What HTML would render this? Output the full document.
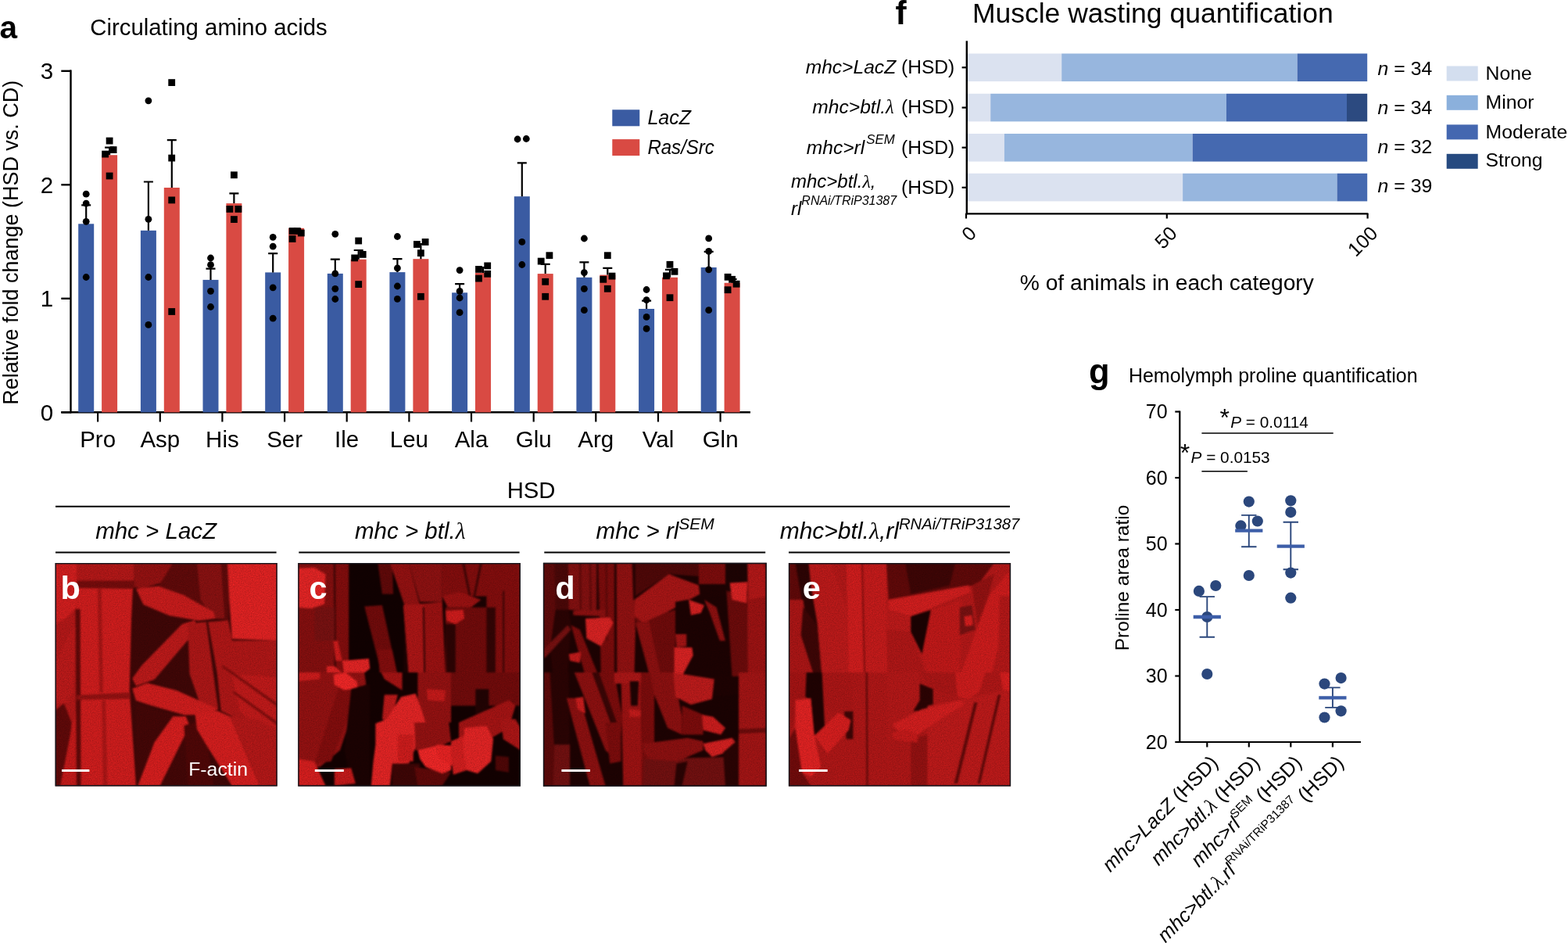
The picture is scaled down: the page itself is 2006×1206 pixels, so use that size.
<!DOCTYPE html>
<html><head><meta charset="utf-8"><title>Figure</title>
<style>
html,body{margin:0;padding:0;background:#fff;}
body{width:2006px;height:1206px;overflow:hidden;}
svg{display:block;}
svg text{font-family:'Liberation Sans', Arial, Helvetica, sans-serif;}
</style></head><body>
<svg width="2006" height="1206" viewBox="0 0 2006 1206">
<rect width="2006" height="1206" fill="#fff"/>
<g id="pa">
<text x="-0.6" y="49" font-size="40.5" font-weight="bold">a</text>
<text x="115.3" y="45" font-size="29.35">Circulating amino acids</text>
<line x1="90.5" y1="89.59999999999995" x2="90.5" y2="528.3" stroke="#000" stroke-width="2.4"/>
<line x1="78.3" y1="527.3" x2="960" y2="527.3" stroke="#000" stroke-width="2.4"/>
<line x1="78.3" y1="527.3" x2="91" y2="527.3" stroke="#000" stroke-width="2.4"/>
<text x="68.2" y="537.7" font-size="29.5" text-anchor="end">0</text>
<line x1="78.3" y1="381.8" x2="91" y2="381.8" stroke="#000" stroke-width="2.4"/>
<text x="68.2" y="392.2" font-size="29.5" text-anchor="end">1</text>
<line x1="78.3" y1="236.3" x2="91" y2="236.3" stroke="#000" stroke-width="2.4"/>
<text x="68.2" y="246.7" font-size="29.5" text-anchor="end">2</text>
<line x1="78.3" y1="90.8" x2="91" y2="90.8" stroke="#000" stroke-width="2.4"/>
<text x="68.2" y="101.2" font-size="29.5" text-anchor="end">3</text>
<text transform="translate(23.4,310.3) rotate(-90)" font-size="28.2" text-anchor="middle" textLength="415" lengthAdjust="spacingAndGlyphs">Relative fold change (HSD vs. CD)</text>
<rect x="100.2" y="286.3" width="20" height="241.0" fill="#3a5ba2"/>
<rect x="130.1" y="198.3" width="20" height="329.0" fill="#d94a43"/>
<line x1="125.1" y1="527.3" x2="125.1" y2="539.5" stroke="#000" stroke-width="2.2"/>
<text x="125.1" y="572" font-size="29.5" text-anchor="middle">Pro</text>
<path d="M110.2 286.3 V262.4 M104.2 262.4 H116.2" stroke="#000" stroke-width="2.2" fill="none"/>
<path d="M140.1 198.3 V188.6 M134.1 188.6 H146.1" stroke="#000" stroke-width="2.2" fill="none"/>
<rect x="179.9" y="294.8" width="20" height="232.5" fill="#3a5ba2"/>
<rect x="209.8" y="240" width="20" height="287.3" fill="#d94a43"/>
<line x1="204.8" y1="527.3" x2="204.8" y2="539.5" stroke="#000" stroke-width="2.2"/>
<text x="204.8" y="572" font-size="29.5" text-anchor="middle">Asp</text>
<path d="M189.9 294.8 V232.5 M183.9 232.5 H195.9" stroke="#000" stroke-width="2.2" fill="none"/>
<path d="M219.8 240 V179.1 M213.8 179.1 H225.8" stroke="#000" stroke-width="2.2" fill="none"/>
<rect x="259.5" y="357.9" width="20" height="169.4" fill="#3a5ba2"/>
<rect x="289.4" y="260.1" width="20" height="267.2" fill="#d94a43"/>
<line x1="284.4" y1="527.3" x2="284.4" y2="539.5" stroke="#000" stroke-width="2.2"/>
<text x="284.4" y="572" font-size="29.5" text-anchor="middle">His</text>
<path d="M269.5 357.9 V343.6 M263.5 343.6 H275.5" stroke="#000" stroke-width="2.2" fill="none"/>
<path d="M299.4 260.1 V247.4 M293.4 247.4 H305.4" stroke="#000" stroke-width="2.2" fill="none"/>
<rect x="339.2" y="348.4" width="20" height="178.9" fill="#3a5ba2"/>
<rect x="369.1" y="291.8" width="20" height="235.5" fill="#d94a43"/>
<line x1="364.1" y1="527.3" x2="364.1" y2="539.5" stroke="#000" stroke-width="2.2"/>
<text x="364.1" y="572" font-size="29.5" text-anchor="middle">Ser</text>
<path d="M349.2 348.4 V324.2 M343.2 324.2 H355.2" stroke="#000" stroke-width="2.2" fill="none"/>
<path d="M379.1 291.8 V293 M373.1 293 H385.1" stroke="#000" stroke-width="2.2" fill="none"/>
<rect x="418.8" y="349.9" width="20" height="177.4" fill="#3a5ba2"/>
<rect x="448.7" y="331.7" width="20" height="195.6" fill="#d94a43"/>
<line x1="443.7" y1="527.3" x2="443.7" y2="539.5" stroke="#000" stroke-width="2.2"/>
<text x="443.7" y="572" font-size="29.5" text-anchor="middle">Ile</text>
<path d="M428.8 349.9 V331.7 M422.8 331.7 H434.8" stroke="#000" stroke-width="2.2" fill="none"/>
<path d="M458.7 331.7 V320 M452.7 320 H464.7" stroke="#000" stroke-width="2.2" fill="none"/>
<rect x="498.4" y="348.1" width="20" height="179.2" fill="#3a5ba2"/>
<rect x="528.4" y="331.2" width="20" height="196.1" fill="#d94a43"/>
<line x1="523.4" y1="527.3" x2="523.4" y2="539.5" stroke="#000" stroke-width="2.2"/>
<text x="523.4" y="572" font-size="29.5" text-anchor="middle">Leu</text>
<path d="M508.4 348.1 V331.2 M502.4 331.2 H514.5" stroke="#000" stroke-width="2.2" fill="none"/>
<path d="M538.4 331.2 V312 M532.4 312 H544.4" stroke="#000" stroke-width="2.2" fill="none"/>
<rect x="578.1" y="374.3" width="20" height="153.0" fill="#3a5ba2"/>
<rect x="608.0" y="349.0" width="20" height="178.3" fill="#d94a43"/>
<line x1="603.0" y1="527.3" x2="603.0" y2="539.5" stroke="#000" stroke-width="2.2"/>
<text x="603.0" y="572" font-size="29.5" text-anchor="middle">Ala</text>
<path d="M588.1 374.3 V363.1 M582.1 363.1 H594.1" stroke="#000" stroke-width="2.2" fill="none"/>
<path d="M618.0 349.0 V342 M612.0 342 H624.0" stroke="#000" stroke-width="2.2" fill="none"/>
<rect x="657.8" y="251.2" width="20" height="276.1" fill="#3a5ba2"/>
<rect x="687.7" y="350.1" width="20" height="177.2" fill="#d94a43"/>
<line x1="682.7" y1="527.3" x2="682.7" y2="539.5" stroke="#000" stroke-width="2.2"/>
<text x="682.7" y="572" font-size="29.5" text-anchor="middle">Glu</text>
<path d="M667.8 251.2 V208.3 M661.8 208.3 H673.8" stroke="#000" stroke-width="2.2" fill="none"/>
<path d="M697.7 350.1 V337.9 M691.7 337.9 H703.7" stroke="#000" stroke-width="2.2" fill="none"/>
<rect x="737.4" y="354.8" width="20" height="172.5" fill="#3a5ba2"/>
<rect x="767.3" y="351.6" width="20" height="175.7" fill="#d94a43"/>
<line x1="762.3" y1="527.3" x2="762.3" y2="539.5" stroke="#000" stroke-width="2.2"/>
<text x="762.3" y="572" font-size="29.5" text-anchor="middle">Arg</text>
<path d="M747.4 354.8 V335.4 M741.4 335.4 H753.4" stroke="#000" stroke-width="2.2" fill="none"/>
<path d="M777.3 351.6 V342.9 M771.3 342.9 H783.3" stroke="#000" stroke-width="2.2" fill="none"/>
<rect x="817.1" y="395" width="20" height="132.3" fill="#3a5ba2"/>
<rect x="847.0" y="354.8" width="20" height="172.5" fill="#d94a43"/>
<line x1="842.0" y1="527.3" x2="842.0" y2="539.5" stroke="#000" stroke-width="2.2"/>
<text x="842.0" y="572" font-size="29.5" text-anchor="middle">Val</text>
<path d="M827.1 395 V384.7 M821.1 384.7 H833.1" stroke="#000" stroke-width="2.2" fill="none"/>
<path d="M857.0 354.8 V344.9 M851.0 344.9 H863.0" stroke="#000" stroke-width="2.2" fill="none"/>
<rect x="896.7" y="342" width="20" height="185.3" fill="#3a5ba2"/>
<rect x="926.6" y="361.8" width="20" height="165.5" fill="#d94a43"/>
<line x1="921.6" y1="527.3" x2="921.6" y2="539.5" stroke="#000" stroke-width="2.2"/>
<text x="921.6" y="572" font-size="29.5" text-anchor="middle">Gln</text>
<path d="M906.7 342 V321.9 M900.7 321.9 H912.7" stroke="#000" stroke-width="2.2" fill="none"/>
<path d="M936.6 361.8 V357 M930.6 357 H942.6" stroke="#000" stroke-width="2.2" fill="none"/>
<circle cx="110.2" cy="248.2" r="4.4"/>
<circle cx="110.2" cy="260.1" r="4.4"/>
<circle cx="110.2" cy="283.3" r="4.4"/>
<circle cx="110.2" cy="354.5" r="4.4"/>
<rect x="135.7" y="175.7" width="8.8" height="8.8"/>
<rect x="140.7" y="187.2" width="8.8" height="8.8"/>
<rect x="130.2" y="192.7" width="8.8" height="8.8"/>
<rect x="135.7" y="220.6" width="8.8" height="8.8"/>
<circle cx="189.9" cy="128.8" r="4.4"/>
<circle cx="189.9" cy="280.3" r="4.4"/>
<circle cx="189.9" cy="354.5" r="4.4"/>
<circle cx="189.9" cy="415.4" r="4.4"/>
<rect x="215.3" y="101.2" width="8.8" height="8.8"/>
<rect x="215.3" y="197.7" width="8.8" height="8.8"/>
<rect x="215.3" y="251.5" width="8.8" height="8.8"/>
<rect x="215.3" y="394.1" width="8.8" height="8.8"/>
<circle cx="269.5" cy="330" r="4.4"/>
<circle cx="269.5" cy="338.7" r="4.4"/>
<circle cx="269.5" cy="372.3" r="4.4"/>
<circle cx="269.5" cy="392.5" r="4.4"/>
<rect x="295.0" y="219.4" width="8.8" height="8.8"/>
<rect x="289.5" y="263.0" width="8.8" height="8.8"/>
<rect x="300.5" y="263.0" width="8.8" height="8.8"/>
<rect x="295.0" y="276.2" width="8.8" height="8.8"/>
<circle cx="349.2" cy="303.3" r="4.4"/>
<circle cx="349.2" cy="315.2" r="4.4"/>
<circle cx="349.2" cy="367.8" r="4.4"/>
<circle cx="349.2" cy="407.2" r="4.4"/>
<rect x="369.7" y="291.1" width="8.8" height="8.8"/>
<rect x="375.9" y="291.1" width="8.8" height="8.8"/>
<rect x="380.9" y="293.6" width="8.8" height="8.8"/>
<rect x="369.7" y="301.1" width="8.8" height="8.8"/>
<circle cx="428.8" cy="299.3" r="4.4"/>
<circle cx="428.8" cy="349.9" r="4.4"/>
<circle cx="428.8" cy="369.3" r="4.4"/>
<circle cx="428.8" cy="382.5" r="4.4"/>
<rect x="454.3" y="303.6" width="8.8" height="8.8"/>
<rect x="449.3" y="325.5" width="8.8" height="8.8"/>
<rect x="459.8" y="321.0" width="8.8" height="8.8"/>
<rect x="454.3" y="359.2" width="8.8" height="8.8"/>
<circle cx="508.4" cy="302.5" r="4.4"/>
<circle cx="508.4" cy="342.9" r="4.4"/>
<circle cx="508.4" cy="366" r="4.4"/>
<circle cx="508.4" cy="382.3" r="4.4"/>
<rect x="529.0" y="308.1" width="8.8" height="8.8"/>
<rect x="539.7" y="305.1" width="8.8" height="8.8"/>
<rect x="534.0" y="319.3" width="8.8" height="8.8"/>
<rect x="534.0" y="374.9" width="8.8" height="8.8"/>
<circle cx="588.1" cy="345.6" r="4.4"/>
<circle cx="588.1" cy="372.3" r="4.4"/>
<circle cx="588.1" cy="381" r="4.4"/>
<circle cx="588.1" cy="399.7" r="4.4"/>
<rect x="608.1" y="340.0" width="8.8" height="8.8"/>
<rect x="619.3" y="335.5" width="8.8" height="8.8"/>
<rect x="619.3" y="345.9" width="8.8" height="8.8"/>
<rect x="608.1" y="351.7" width="8.8" height="8.8"/>
<circle cx="662.1" cy="178" r="4.4"/>
<circle cx="673.3" cy="177.5" r="4.4"/>
<circle cx="667.8" cy="309.4" r="4.4"/>
<circle cx="667.8" cy="338.5" r="4.4"/>
<rect x="687.8" y="329.7" width="8.8" height="8.8"/>
<rect x="698.5" y="322.3" width="8.8" height="8.8"/>
<rect x="693.3" y="355.9" width="8.8" height="8.8"/>
<rect x="693.3" y="374.9" width="8.8" height="8.8"/>
<circle cx="747.4" cy="305" r="4.4"/>
<circle cx="747.4" cy="348.6" r="4.4"/>
<circle cx="747.4" cy="369.3" r="4.4"/>
<circle cx="747.4" cy="396.7" r="4.4"/>
<rect x="772.9" y="322.3" width="8.8" height="8.8"/>
<rect x="767.4" y="352.9" width="8.8" height="8.8"/>
<rect x="778.6" y="348.7" width="8.8" height="8.8"/>
<rect x="772.9" y="364.9" width="8.8" height="8.8"/>
<circle cx="827.1" cy="370.5" r="4.4"/>
<circle cx="827.1" cy="383.7" r="4.4"/>
<circle cx="827.1" cy="405.4" r="4.4"/>
<circle cx="827.1" cy="420.4" r="4.4"/>
<rect x="852.6" y="333.9" width="8.8" height="8.8"/>
<rect x="858.6" y="342.9" width="8.8" height="8.8"/>
<rect x="848.1" y="348.4" width="8.8" height="8.8"/>
<rect x="852.6" y="376.3" width="8.8" height="8.8"/>
<circle cx="906.7" cy="304.9" r="4.4"/>
<circle cx="906.7" cy="321.4" r="4.4"/>
<circle cx="906.7" cy="344.8" r="4.4"/>
<circle cx="906.7" cy="396.7" r="4.4"/>
<rect x="926.7" y="349.9" width="8.8" height="8.8"/>
<rect x="932.2" y="352.9" width="8.8" height="8.8"/>
<rect x="937.7" y="358.8" width="8.8" height="8.8"/>
<rect x="926.7" y="366.3" width="8.8" height="8.8"/>
<rect x="783.3" y="140.3" width="35" height="21" fill="#3a5ba2"/>
<rect x="783.3" y="178.1" width="35" height="21" fill="#d94a43"/>
<text x="828.4" y="159.2" font-size="25" font-style="italic">LacZ</text>
<text x="828.4" y="196.6" font-size="25" font-style="italic" textLength="85.5" lengthAdjust="spacingAndGlyphs">Ras/Src</text>
</g>
<g id="pf">
<text x="1145.5" y="30.7" font-size="42.5" font-weight="bold">f</text>
<text x="1243.9" y="28.8" font-size="35.5">Muscle wasting quantification</text>
<rect x="1238" y="68.5" width="120.2" height="35.6" fill="#dbe2f0"/>
<rect x="1358.2" y="68.5" width="301.5" height="35.6" fill="#97b6de"/>
<rect x="1659.7" y="68.5" width="89.5" height="35.6" fill="#4569b0"/>
<rect x="1238" y="119.8" width="29.2" height="35.6" fill="#dbe2f0"/>
<rect x="1267.2" y="119.8" width="301.7" height="35.6" fill="#97b6de"/>
<rect x="1568.9" y="119.8" width="154.1" height="35.6" fill="#4569b0"/>
<rect x="1723" y="119.8" width="26.2" height="35.6" fill="#2c4a80"/>
<rect x="1238" y="171.0" width="46.9" height="35.6" fill="#dbe2f0"/>
<rect x="1284.9" y="171.0" width="240.8" height="35.6" fill="#97b6de"/>
<rect x="1525.7" y="171.0" width="223.5" height="35.6" fill="#4569b0"/>
<rect x="1238" y="221.8" width="275.1" height="35.6" fill="#dbe2f0"/>
<rect x="1513.1" y="221.8" width="197.5" height="35.6" fill="#97b6de"/>
<rect x="1710.6" y="221.8" width="38.6" height="35.6" fill="#4569b0"/>
<line x1="1236.8" y1="52.3" x2="1236.8" y2="274.3" stroke="#000" stroke-width="2.4"/>
<line x1="1235.6" y1="273.3" x2="1750.4" y2="273.3" stroke="#000" stroke-width="2.2"/>
<line x1="1230.6" y1="86.3" x2="1237" y2="86.3" stroke="#000" stroke-width="2.2"/>
<line x1="1230.6" y1="137.6" x2="1237" y2="137.6" stroke="#000" stroke-width="2.2"/>
<line x1="1230.6" y1="188.7" x2="1237" y2="188.7" stroke="#000" stroke-width="2.2"/>
<line x1="1230.6" y1="239.8" x2="1237" y2="239.8" stroke="#000" stroke-width="2.2"/>
<line x1="1236.0" y1="273" x2="1236.0" y2="279.5" stroke="#000" stroke-width="2.2"/>
<text transform="translate(1250.5,300) rotate(-45)" font-size="25" text-anchor="end">0</text>
<line x1="1492.8" y1="273" x2="1492.8" y2="279.5" stroke="#000" stroke-width="2.2"/>
<text transform="translate(1507.3,300) rotate(-45)" font-size="25" text-anchor="end">50</text>
<line x1="1749.6" y1="273" x2="1749.6" y2="279.5" stroke="#000" stroke-width="2.2"/>
<text transform="translate(1764.1,300) rotate(-45)" font-size="25" text-anchor="end">100</text>
<text x="1492.8" y="371.4" font-size="28.2" text-anchor="middle">% of animals in each category</text>
<text x="1221.3" y="93.6" font-size="24.6" text-anchor="end"><tspan font-style="italic">mhc&gt;LacZ</tspan> (HSD)</text>
<text x="1221.3" y="145.4" font-size="24.6" text-anchor="end"><tspan font-style="italic">mhc&gt;btl.<tspan font-family="Liberation Serif">λ</tspan></tspan><tspan dx="2.5"> (HSD)</tspan></text>
<text x="1221.3" y="197.1" font-size="24.6" text-anchor="end"><tspan font-style="italic">mhc&gt;rl<tspan font-size="16.8" dx="2" dy="-13">SEM</tspan></tspan><tspan dx="1.5" dy="13"> (HSD)</tspan></text>
<text x="1221.3" y="248.3" font-size="24.6" text-anchor="end">(HSD)</text>
<text x="1012" y="240" font-size="24" font-style="italic">mhc&gt;btl.<tspan font-family="Liberation Serif">λ</tspan>,</text>
<text x="1012" y="275" font-size="24" font-style="italic">rl<tspan font-size="16" dy="-13">RNAi/TRiP31387</tspan></text>
<text x="1762.6" y="95.9" font-size="24.8"><tspan font-style="italic">n</tspan> = 34</text>
<text x="1762.6" y="145.8" font-size="24.8"><tspan font-style="italic">n</tspan> = 34</text>
<text x="1762.6" y="196.3" font-size="24.8"><tspan font-style="italic">n</tspan> = 32</text>
<text x="1762.6" y="246" font-size="24.8"><tspan font-style="italic">n</tspan> = 39</text>
<rect x="1850.7" y="84.5" width="40" height="19" fill="#d3deef"/>
<text x="1900.5" y="101.7" font-size="24.8">None</text>
<rect x="1850.7" y="121.8" width="40" height="19" fill="#8bb0dc"/>
<text x="1900.5" y="138.7" font-size="24.8">Minor</text>
<rect x="1850.7" y="159.4" width="40" height="19" fill="#4467b0"/>
<text x="1900.5" y="176.6" font-size="24.8">Moderate</text>
<rect x="1850.7" y="196.8" width="40" height="19" fill="#264a80"/>
<text x="1900.5" y="213.2" font-size="24.8">Strong</text>
</g>
<g id="pg">
<text x="1393" y="490.4" font-size="43.5" font-weight="bold">g</text>
<text x="1443.9" y="488.7" font-size="25">Hemolymph proline quantification</text>
<line x1="1509.3" y1="525.5" x2="1509.3" y2="950" stroke="#000" stroke-width="2.2"/>
<line x1="1507.5" y1="949" x2="1741" y2="949" stroke="#000" stroke-width="2.2"/>
<line x1="1503.3" y1="949.0" x2="1509.3" y2="949.0" stroke="#000" stroke-width="2.2"/>
<text x="1493.6" y="957.9" font-size="25" text-anchor="end">20</text>
<line x1="1503.3" y1="864.5" x2="1509.3" y2="864.5" stroke="#000" stroke-width="2.2"/>
<text x="1493.6" y="873.4" font-size="25" text-anchor="end">30</text>
<line x1="1503.3" y1="780.0" x2="1509.3" y2="780.0" stroke="#000" stroke-width="2.2"/>
<text x="1493.6" y="788.9" font-size="25" text-anchor="end">40</text>
<line x1="1503.3" y1="695.5" x2="1509.3" y2="695.5" stroke="#000" stroke-width="2.2"/>
<text x="1493.6" y="704.4" font-size="25" text-anchor="end">50</text>
<line x1="1503.3" y1="611.0" x2="1509.3" y2="611.0" stroke="#000" stroke-width="2.2"/>
<text x="1493.6" y="619.9" font-size="25" text-anchor="end">60</text>
<line x1="1503.3" y1="526.5" x2="1509.3" y2="526.5" stroke="#000" stroke-width="2.2"/>
<text x="1493.6" y="535.4" font-size="25" text-anchor="end">70</text>
<text transform="translate(1444,739) rotate(-90)" font-size="24.5" text-anchor="middle">Proline area ratio</text>
<line x1="1544.3" y1="949" x2="1544.3" y2="955.5" stroke="#000" stroke-width="2.2"/>
<line x1="1597.8" y1="949" x2="1597.8" y2="955.5" stroke="#000" stroke-width="2.2"/>
<line x1="1651.3" y1="949" x2="1651.3" y2="955.5" stroke="#000" stroke-width="2.2"/>
<line x1="1704.9" y1="949" x2="1704.9" y2="955.5" stroke="#000" stroke-width="2.2"/>
<circle cx="1533.9" cy="755.9" r="7.1" fill="#2b477c"/>
<circle cx="1555.3" cy="749" r="7.1" fill="#2b477c"/>
<circle cx="1544.3" cy="789" r="7.1" fill="#2b477c"/>
<circle cx="1544.3" cy="862" r="7.1" fill="#2b477c"/>
<circle cx="1597.8" cy="641.6" r="7.1" fill="#2b477c"/>
<circle cx="1608.8" cy="666.5" r="7.1" fill="#2b477c"/>
<circle cx="1587.4" cy="672.4" r="7.1" fill="#2b477c"/>
<circle cx="1597.8" cy="736" r="7.1" fill="#2b477c"/>
<circle cx="1651.3" cy="640.3" r="7.1" fill="#2b477c"/>
<circle cx="1651.3" cy="655.1" r="7.1" fill="#2b477c"/>
<circle cx="1651.3" cy="732.6" r="7.1" fill="#2b477c"/>
<circle cx="1651.3" cy="764.7" r="7.1" fill="#2b477c"/>
<circle cx="1694.5" cy="874.6" r="7.1" fill="#2b477c"/>
<circle cx="1715.6" cy="867.1" r="7.1" fill="#2b477c"/>
<circle cx="1715.6" cy="909.3" r="7.1" fill="#2b477c"/>
<circle cx="1694.5" cy="917.5" r="7.1" fill="#2b477c"/>
<path d="M1544.3 763.1 V814.8 M1534.6 763.1 H1554.0 M1534.6 814.8 H1554.0" stroke="#2b477c" stroke-width="1.9" fill="none"/>
<line x1="1526.7" y1="789" x2="1561.9" y2="789" stroke="#3d5ea8" stroke-width="4.3"/>
<path d="M1597.8 658.9 V699.2 M1588.1 658.9 H1607.5 M1588.1 699.2 H1607.5" stroke="#2b477c" stroke-width="1.9" fill="none"/>
<line x1="1580.2" y1="678.7" x2="1615.4" y2="678.7" stroke="#3d5ea8" stroke-width="4.3"/>
<path d="M1651.3 667.7 V728.2 M1641.6 667.7 H1661.0 M1641.6 728.2 H1661.0" stroke="#2b477c" stroke-width="1.9" fill="none"/>
<line x1="1633.7" y1="698.6" x2="1668.9" y2="698.6" stroke="#3d5ea8" stroke-width="4.3"/>
<path d="M1704.9 879.4 V904.9 M1695.2 879.4 H1714.6 M1695.2 904.9 H1714.6" stroke="#2b477c" stroke-width="1.9" fill="none"/>
<line x1="1687.3" y1="892.3" x2="1722.5" y2="892.3" stroke="#3d5ea8" stroke-width="4.3"/>
<line x1="1537.4" y1="553.9" x2="1705.7" y2="553.9" stroke="#000" stroke-width="1.5"/>
<line x1="1537.4" y1="602.7" x2="1595.9" y2="602.7" stroke="#000" stroke-width="1.5"/>
<text x="1560.5" y="544.5" font-size="32">*</text>
<text x="1574.2" y="546.9" font-size="20.8"><tspan font-style="italic">P</tspan> = 0.0114</text>
<text x="1509.7" y="589.5" font-size="32">*</text>
<text x="1523.5" y="591.8" font-size="20.8"><tspan font-style="italic">P</tspan> = 0.0153</text>
<text transform="translate(1559.8,977) rotate(-45)" font-size="25.4" text-anchor="end"><tspan font-style="italic">mhc&gt;LacZ</tspan> (HSD)</text>
<text transform="translate(1613.3,977) rotate(-45)" font-size="25.4" text-anchor="end"><tspan font-style="italic">mhc&gt;btl.<tspan font-family="Liberation Serif">λ</tspan></tspan> (HSD)</text>
<text transform="translate(1666.8,977) rotate(-45)" font-size="25.4" text-anchor="end"><tspan font-style="italic">mhc&gt;rl</tspan><tspan font-size="15.5" dy="-12">SEM</tspan><tspan dy="12">  (HSD)</tspan></text>
<text transform="translate(1720.4,977) rotate(-45)" font-size="25.4" text-anchor="end"><tspan font-style="italic">mhc&gt;btl.<tspan font-family="Liberation Serif">λ</tspan>,rl</tspan><tspan font-size="15.5" dy="-12">RNAi/TRiP31387</tspan><tspan dy="12">  (HSD)</tspan></text>
</g>
<g id="ph">
<text x="679.6" y="637.2" font-size="29.3" text-anchor="middle">HSD</text>
<line x1="71" y1="647.7" x2="1292" y2="647.7" stroke="#000" stroke-width="2"/>
<line x1="71" y1="706.6" x2="353.6" y2="706.6" stroke="#000" stroke-width="2"/>
<text x="199.6" y="688.7" font-size="29.5" text-anchor="middle"><tspan font-style="italic">mhc &gt; LacZ</tspan></text>
<line x1="382.3" y1="706.6" x2="664.6" y2="706.6" stroke="#000" stroke-width="2"/>
<text x="524.7" y="688.7" font-size="29.5" text-anchor="middle"><tspan font-style="italic">mhc &gt; btl.<tspan font-family="Liberation Serif">λ</tspan></tspan></text>
<line x1="696.3" y1="706.6" x2="979.2" y2="706.6" stroke="#000" stroke-width="2"/>
<text x="838.2" y="688.7" font-size="29.5" text-anchor="middle"><tspan font-style="italic">mhc &gt; rl<tspan font-size="21" dy="-12.2">SEM</tspan></tspan></text>
<line x1="1009" y1="706.6" x2="1292" y2="706.6" stroke="#000" stroke-width="2"/>
<text x="1151" y="688.7" font-size="29.5" text-anchor="middle"><tspan font-style="italic" font-size="30">mhc&gt;btl.<tspan font-family="Liberation Serif">λ</tspan>,rl<tspan font-size="20.3" dy="-12">RNAi/TRiP31387</tspan></tspan></text>
</g>
<g id="imgs">
<clipPath id="clipb"><rect x="70.6" y="720.0" width="284.1" height="285.4"/></clipPath>
<clipPath id="clipc"><rect x="381.3" y="720.0" width="284.6" height="285.6"/></clipPath>
<clipPath id="clipd"><rect x="694.9" y="719.8" width="285.9" height="285.9"/></clipPath>
<clipPath id="clipe"><rect x="1008.9" y="720.1" width="284.2" height="285.4"/></clipPath>
<filter id="mic" x="0" y="0" width="1" height="1" color-interpolation-filters="sRGB"><feGaussianBlur in="SourceGraphic" stdDeviation="1.2" result="b"/><feTurbulence type="fractalNoise" baseFrequency="0.7" numOctaves="2" seed="7" result="t"/><feColorMatrix in="t" type="matrix" values="0.33 0.33 0.33 0 0  0.33 0.33 0.33 0 0  0.33 0.33 0.33 0 0  0 0 0 0 1" result="g"/><feComposite in="b" in2="g" operator="arithmetic" k1="0.7" k2="0.65" k3="0" k4="0"/></filter>
<g clip-path="url(#clipb)"><g filter="url(#mic)">
<rect x="67.6" y="717.0" width="290.1" height="291.4" fill="#3c0606"/>
<g transform="translate(70,720) scale(0.236318)">
<polygon fill="#a81616" points="0,0 120,0 125,250 110,1206 0,1206"/>
<polygon fill="#c41c1c" points="0,0 120,0 118,240 60,300 0,330"/>
<polygon fill="#b01818" points="0,560 60,420 110,330 120,380 100,700 60,760 0,760"/>
<polygon fill="#5a0808" points="0,800 50,760 90,860 70,1206 0,1206"/>
<polygon fill="#b81818" points="30,1206 90,900 130,760 140,1206"/>
<polygon fill="#c21b1b" points="120,0 430,0 415,300 405,690 440,1206 140,1206 135,720 120,300"/>
<polygon fill="#a81616" points="120,0 430,0 430,95 120,95"/>
<polygon fill="#6e0b0b" points="120,95 430,95 430,140 120,135"/>
<polygon fill="#5a0808" points="112,250 138,250 142,1206 118,1206"/>
<polygon fill="#9c1313" points="232,140 252,140 262,700 242,700"/>
<polygon fill="#8a1010" points="120,715 410,700 410,735 120,740"/>
<polygon fill="#a01414" points="255,745 275,745 285,1206 262,1206"/>
<polygon fill="#8a1010" points="430,0 640,0 600,100 470,140 430,130"/>
<polygon fill="#5a0909" points="640,0 950,0 940,310 860,300 700,180 560,130"/>
<polygon fill="#801010" points="770,0 900,0 920,300 860,300 790,200"/>
<polygon fill="#bb1a1a" points="440,140 560,125 700,175 860,265 870,300 780,312 620,285 480,225"/>
<polygon fill="#b01818" points="420,625 470,555 690,330 760,310 770,360 540,630 440,665"/>
<polygon fill="#a21515" points="720,330 820,318 885,790 800,800 730,600"/>
<polygon fill="#d22020" points="935,0 1206,0 1206,420 960,410 945,200"/>
<polygon fill="#a41515" points="830,320 940,310 960,420 1206,420 1206,910 1100,900 900,800 880,600"/>
<polygon fill="#b41818" points="960,600 1206,620 1206,910 1110,900 1000,800"/>
<polygon fill="#7a0c0c" points="900,560 915,555 1206,760 1206,780"/>
<polygon fill="#7a0c0c" points="960,700 975,695 1206,860 1206,880"/>
<polygon fill="#c21b1b" points="420,680 500,650 660,690 885,790 830,822 700,822 520,770 440,745"/>
<polygon fill="#400606" points="440,760 560,800 720,830 760,1206 440,1206"/>
<polygon fill="#c81c1c" points="450,1206 570,1206 730,880 710,830 640,830 540,970"/>
<polygon fill="#4a0606" points="700,880 790,850 830,1000 860,1206 720,1206"/>
<polygon fill="#c61c1c" points="760,820 880,800 950,830 1110,1206 960,1206 830,1000 770,900"/>
<polygon fill="#a81616" points="950,830 1100,850 1206,900 1206,1206 1110,1206"/>
</g></g></g>
<rect x="71.3" y="720.7" width="282.70000000000005" height="284.0" fill="none" stroke="#18181e" stroke-width="1.4"/>
<g clip-path="url(#clipc)"><g filter="url(#mic)">
<rect x="378.3" y="717.0" width="290.6" height="291.6" fill="#1a0202"/>
<g transform="translate(381,720) scale(0.142066)">
<polygon fill="#7c0e0e" points="0,0 460,0 460,1021 0,1021"/>
<polygon fill="#7a0c0c" points="330,0 460,0 460,1021 340,1021"/>
<polygon fill="#3a0505" points="322,0 338,0 345,1021 330,1021"/>
<polygon fill="#701010" points="150,400 330,400 330,700 150,700"/>
<polygon fill="#d42222" points="0,50 150,40 250,100 240,370 120,410 0,400"/>
<polygon fill="#100101" points="460,0 830,0 960,380 950,1021 460,1021"/>
<polygon fill="#5a0808" points="720,0 850,0 860,280 760,280"/>
<polygon fill="#6a0a0a" points="600,390 760,380 900,1021 760,1021"/>
<polygon fill="#7a0c0c" points="720,780 850,780 900,1021 740,1021"/>
<polygon fill="#8a1010" points="830,0 1000,0 1100,380 960,380"/>
<polygon fill="#841010" points="1000,0 1300,0 1300,350 1100,350"/>
<polygon fill="#901010" points="950,380 1300,350 1330,1021 1000,1021"/>
<polygon fill="#a01414" points="950,380 1130,370 1140,1021 1000,1021"/>
<polygon fill="#3a0505" points="1125,400 1140,400 1150,1021 1135,1021"/>
<polygon fill="#7a0c0c" points="1300,0 1850,0 1850,300 1300,300"/>
<polygon fill="#3a0505" points="1480,0 1500,0 1560,300 1540,300"/>
<polygon fill="#3a0505" points="1640,0 1660,0 1600,300 1580,300"/>
<polygon fill="#6a0a0a" points="1330,400 1700,400 1700,1021 1330,1021"/>
<polygon fill="#2a0303" points="1330,550 1420,550 1420,1021 1340,1021"/>
<polygon fill="#901010" points="1300,300 1450,260 1650,330 1560,400 1350,400"/>
<polygon fill="#c01a1a" points="1330,430 1490,420 1500,500 1420,550 1340,520"/>
<polygon fill="#7a0c0c" points="1700,0 2006,0 2006,1021 1700,1021"/>
<polygon fill="#300404" points="1700,400 1780,400 1780,1021 1700,1021"/>
<polygon fill="#3a0505" points="1845,250 1860,250 1860,1021 1845,1021"/>
<polygon fill="#c01a1a" points="320,700 360,700 400,880 340,880"/>
<polygon fill="#d42222" points="400,880 640,860 650,950 560,1021 420,1021"/>
<polygon fill="#d02020" points="260,930 330,930 440,1021 260,1021"/>
</g>
<g transform="translate(381,860) scale(0.142066)">
<polygon fill="#120101" points="0,0 2006,0 2006,1021 0,1021"/>
<polygon fill="#8a1010" points="0,0 600,0 620,150 480,400 380,700 200,850 0,850"/>
<polygon fill="#7a0c0c" points="380,100 560,120 300,800 150,820"/>
<polygon fill="#c01a1a" points="0,0 200,0 200,60 0,80"/>
<polygon fill="#e02424" points="320,20 430,0 530,80 540,140 420,160 330,110"/>
<polygon fill="#1a0202" points="480,150 650,100 650,1021 480,1021 420,700"/>
<polygon fill="#c81c1c" points="0,780 150,800 250,1021 0,1021"/>
<polygon fill="#b81818" points="330,870 480,860 520,1000 330,1021"/>
<polygon fill="#9a1212" points="750,0 940,0 940,160 780,60"/>
<polygon fill="#b01818" points="780,200 900,200 840,450 760,420"/>
<polygon fill="#8a1010" points="1080,0 1380,0 1380,450 1080,450"/>
<polygon fill="#b81818" points="1160,150 1330,160 1320,260 1170,250"/>
<polygon fill="#6a0a0a" points="1380,0 2006,0 2006,300 1380,300"/>
<polygon fill="#200303" points="1600,150 1720,150 1720,450 1600,450"/>
<polygon fill="#d42222" points="700,460 800,420 930,220 1060,190 1120,350 1150,450 1050,700 1000,820 850,830 830,1021 660,1021 680,800 700,650"/>
<polygon fill="#c01a1a" points="900,560 1040,560 1040,800 900,800"/>
<polygon fill="#9a1212" points="1450,450 1900,250 1960,300 1900,500 1550,700 1450,600"/>
<polygon fill="#a01414" points="1830,420 1960,420 2006,500 2006,700 1850,600"/>
<polygon fill="#8a1010" points="1050,450 1360,450 1380,620 1200,700 1060,700"/>
<polygon fill="#3a0505" points="850,820 1100,820 1100,1021 850,1021"/>
<polygon fill="#5a0808" points="1050,850 1380,900 1300,1021 1080,1021"/>
<polygon fill="#4a0606" points="1780,750 1900,760 1900,900 1780,880"/>
<polygon fill="#e02424" points="1080,700 1250,660 1380,700 1380,880 1300,910 1150,850 1100,780"/>
<polygon fill="#d82020" points="1250,650 1420,660 1450,780 1380,840 1260,760"/>
<polygon fill="#c41c1c" points="1380,620 1520,560 1520,880 1400,920 1380,750"/>
<polygon fill="#d42222" points="1500,500 1700,480 1760,600 1740,800 1620,910 1520,880 1490,700"/>
</g>
</g></g>
<rect x="382.0" y="720.7" width="283.20000000000005" height="284.20000000000005" fill="none" stroke="#18181e" stroke-width="1.4"/>
<g clip-path="url(#clipd)"><g filter="url(#mic)">
<rect x="691.9" y="716.8" width="291.9" height="291.9" fill="#1c0202"/>
<g transform="translate(695,720) scale(0.142066)">
<polygon fill="#590909" points="0,0 230,0 230,420 110,700 0,800"/>
<polygon fill="#460707" points="100,0 230,0 230,420 110,420"/>
<polygon fill="#280303" points="110,420 230,420 250,560 220,1021 90,1021 60,780"/>
<polygon fill="#6e0f0f" points="0,780 220,560 250,600 30,840 0,860"/>
<polygon fill="#7a0f0f" points="225,0 485,0 480,440 230,420"/>
<polygon fill="#560808" points="325,0 340,0 345,420 330,420"/>
<polygon fill="#560808" points="415,0 430,0 435,430 420,430"/>
<polygon fill="#2e0404" points="480,0 500,0 515,450 480,450"/>
<polygon fill="#740b0b" points="495,0 645,0 640,1021 520,1021 510,560"/>
<polygon fill="#560808" points="560,0 575,0 580,700 565,700"/>
<polygon fill="#280303" points="640,0 665,0 665,1021 640,1021"/>
<polygon fill="#871010" points="660,0 805,0 830,600 820,1021 665,1021"/>
<polygon fill="#280303" points="800,0 830,0 830,330 810,330"/>
<polygon fill="#4a0707" points="830,0 1400,0 1400,120 1130,100 830,300"/>
<polygon fill="#740b0b" points="1400,0 1650,0 1650,190 1400,190"/>
<polygon fill="#1c0303" points="1640,0 1850,0 1850,180 1680,260 1640,250"/>
<polygon fill="#9c1414" points="820,330 1130,100 1400,200 1410,280 1100,450 900,540 820,480"/>
<polygon fill="#680a0a" points="820,480 900,540 1100,450 1190,420 1190,1021 1000,1021"/>
<polygon fill="#830f0f" points="830,540 950,520 1060,1021 960,1021"/>
<polygon fill="#1b0202" points="1190,350 1300,330 1650,300 1700,1021 1190,1021"/>
<polygon fill="#c61e1e" points="1310,330 1450,380 1420,450 1330,470"/>
<polygon fill="#830f0f" points="1450,330 1560,400 1640,700 1590,700 1500,450"/>
<polygon fill="#981313" points="1190,640 1290,640 1290,750 1200,760"/>
<polygon fill="#c92020" points="1180,760 1340,760 1350,830 1260,1000 1180,1000"/>
<polygon fill="#650a0a" points="1650,250 1850,300 1840,1021 1700,1021"/>
<polygon fill="#c92020" points="1680,180 1840,170 1830,360 1700,330"/>
<polygon fill="#921111" points="1840,0 2006,0 2006,1021 1840,1021"/>
<polygon fill="#a71616" points="1840,0 1960,0 2006,60 2006,300 1850,330"/>
<polygon fill="#c92020" points="380,500 600,490 630,540 520,750 390,680"/>
<polygon fill="#830f0f" points="270,430 560,420 560,480 270,470"/>
<polygon fill="#740b0b" points="250,560 330,600 500,1021 380,1021"/>
<polygon fill="#b61919" points="230,820 340,800 330,900 240,880"/>
</g>
<g transform="translate(695,860) scale(0.142066)">
<polygon fill="#560808" points="0,0 150,0 130,1021 0,1021"/>
<polygon fill="#280303" points="60,0 230,0 240,700 100,700"/>
<polygon fill="#6a0f0f" points="100,650 240,650 240,1021 90,1021"/>
<polygon fill="#830f0f" points="210,230 330,230 560,1021 420,1021"/>
<polygon fill="#be1b1b" points="290,230 360,220 380,370 310,330"/>
<polygon fill="#830f0f" points="280,0 440,0 700,700 650,780 560,700 400,300"/>
<polygon fill="#370505" points="440,0 500,0 700,560 690,640"/>
<polygon fill="#740b0b" points="500,0 640,0 710,400 700,560"/>
<polygon fill="#740b0b" points="560,450 700,450 700,800 600,820"/>
<polygon fill="#921111" points="700,0 880,0 890,1021 720,1021"/>
<polygon fill="#a01515" points="640,0 900,0 900,100 640,100"/>
<polygon fill="#1e0303" points="780,80 860,80 850,300 790,300"/>
<polygon fill="#b61919" points="770,330 880,340 880,400 780,400"/>
<polygon fill="#740b0b" points="880,0 1000,0 1000,1021 890,1021"/>
<polygon fill="#830f0f" points="960,0 1170,0 1250,400 1250,560 1120,500 1000,200"/>
<polygon fill="#190202" points="1330,230 1760,200 1760,580 1650,560 1440,380 1330,300"/>
<polygon fill="#af1919" points="1170,0 1540,60 1520,240 1330,290 1190,220"/>
<polygon fill="#740b0b" points="1250,300 1440,380 1440,560 1250,560"/>
<polygon fill="#be1b1b" points="1430,380 1530,400 1640,500 1600,560 1440,520"/>
<polygon fill="#6a0f0f" points="900,780 1700,760 1700,1021 900,1021"/>
<polygon fill="#830f0f" points="900,640 1300,590 1440,620 1440,700 1200,800 950,780 900,700"/>
<polygon fill="#c61e1e" points="1440,640 1700,590 1740,640 1650,720 1520,760 1460,700"/>
<polygon fill="#280303" points="1620,720 1760,600 1760,1021 1640,1021"/>
<polygon fill="#981313" points="1760,0 2006,0 2006,1021 1760,1021"/>
<polygon fill="#650a0a" points="1760,510 2006,500 2006,540 1760,550"/>
<polygon fill="#280303" points="1200,820 1300,800 1250,1021 1180,1021"/>
</g>
</g></g>
<rect x="695.6" y="720.5" width="284.5" height="284.5" fill="none" stroke="#18181e" stroke-width="1.4"/>
<g clip-path="url(#clipe)"><g filter="url(#mic)">
<rect x="1005.9" y="717.1" width="290.2" height="291.4" fill="#3a0505"/>
<g transform="translate(1009,720) scale(0.142066)">
<polygon fill="#a81616" points="0,0 2006,0 2006,1021 0,1021"/>
<polygon fill="#5a0808" points="0,0 200,0 180,330 0,330"/>
<polygon fill="#2a0303" points="60,0 180,0 300,560 250,600 130,400"/>
<polygon fill="#a01414" points="0,330 130,330 230,1021 0,1021"/>
<polygon fill="#3a0505" points="130,400 260,560 300,1021 230,1021 110,650"/>
<polygon fill="#b01818" points="180,0 380,0 520,400 540,1021 300,1021 260,560 200,200"/>
<polygon fill="#c21b1b" points="520,0 660,0 680,1021 540,1021"/>
<polygon fill="#b81919" points="660,0 880,0 890,1021 690,1021"/>
<polygon fill="#7a0c0c" points="655,0 668,0 690,1021 677,1021"/>
<polygon fill="#5a0808" points="880,0 1850,0 1700,200 1600,210 900,330"/>
<polygon fill="#3a0505" points="1050,0 1500,0 1450,200 1100,280"/>
<polygon fill="#c41c1c" points="900,330 1620,200 1640,260 1100,480 900,420"/>
<polygon fill="#b01818" points="880,420 1100,480 1280,1021 1100,1021 880,600"/>
<polygon fill="#a41515" points="880,600 1100,620 1250,1021 890,1021"/>
<polygon fill="#1a0202" points="1100,480 1290,420 1260,800 1200,820 1100,620"/>
<polygon fill="#b41717" points="1280,420 1560,330 1540,1021 1250,1021 1200,820"/>
<polygon fill="#701010" points="1540,400 1650,380 1680,600 1540,650"/>
<polygon fill="#c81c1c" points="1580,480 1650,470 1660,560 1590,570"/>
<polygon fill="#8a1010" points="1650,200 1850,100 1800,300 1700,560"/>
<polygon fill="#c01a1a" points="1540,1021 1800,300 1980,80 2006,300 1820,1021"/>
<polygon fill="#a81616" points="1900,300 2006,300 2006,1021 1880,1021"/>
</g>
<g transform="translate(1009,860) scale(0.142066)">
<polygon fill="#a41515" points="0,0 2006,0 2006,1021 0,1021"/>
<polygon fill="#9a1212" points="0,0 180,0 150,220 60,400 0,600"/>
<polygon fill="#1e0202" points="160,0 300,0 330,600 230,560 200,250 150,220"/>
<polygon fill="#6a0a0a" points="0,600 60,500 120,900 200,1021 0,1021"/>
<polygon fill="#d22020" points="60,250 200,230 230,560 290,850 200,940 120,900 60,500"/>
<polygon fill="#a01414" points="300,0 560,0 580,600 420,400 330,300"/>
<polygon fill="#3a0505" points="500,350 580,350 580,600 520,600"/>
<polygon fill="#c81c1c" points="230,570 450,360 560,430 540,520 350,730"/>
<polygon fill="#5a0808" points="695,0 710,0 715,1021 700,1021"/>
<polygon fill="#a81616" points="880,0 1180,0 1190,300 1100,450 920,480 900,1021"/>
<polygon fill="#a01414" points="1180,0 1500,0 1520,220 1300,150"/>
<polygon fill="#2a0303" points="1180,100 1300,150 1300,330 1120,350 1180,250"/>
<polygon fill="#8a1010" points="1100,600 1250,560 1250,1021 1100,1021"/>
<polygon fill="#b01818" points="1250,300 2006,150 2006,1021 1250,1021"/>
<polygon fill="#5a0808" points="1490,1000 1520,1000 1700,270 1670,270"/>
<polygon fill="#5a0808" points="1700,1000 1725,1000 1910,200 1885,200"/>
<polygon fill="#c41c1c" points="930,470 1200,330 1560,250 1580,290 1400,400 1160,560 1000,540"/>
<polygon fill="#b81818" points="930,540 1060,510 1160,560 1160,630 1050,620 940,600"/>
<polygon fill="#c01a1a" points="1500,0 1770,0 1720,170 1620,240 1520,220"/>
<polygon fill="#c81c1c" points="1900,0 2006,0 2006,160 1930,160"/>
</g>
</g></g>
<rect x="1009.6" y="720.8000000000001" width="282.8" height="284.0" fill="none" stroke="#18181e" stroke-width="1.4"/>
</g>
<g id="lbl">
<text x="77.6" y="766.3" font-size="41.5" font-weight="bold" fill="#fff">b</text>
<line x1="79" y1="985.6" x2="114.4" y2="985.6" stroke="#fff" stroke-width="3"/>
<text x="395.6" y="766.3" font-size="41.5" font-weight="bold" fill="#fff">c</text>
<line x1="402.8" y1="985.6" x2="439.8" y2="985.6" stroke="#fff" stroke-width="3"/>
<text x="710.2" y="766.3" font-size="41.5" font-weight="bold" fill="#fff">d</text>
<line x1="718.4" y1="985.6" x2="755" y2="985.6" stroke="#fff" stroke-width="3"/>
<text x="1026.8" y="766.3" font-size="41.5" font-weight="bold" fill="#fff">e</text>
<line x1="1022" y1="985.6" x2="1058.7" y2="985.6" stroke="#fff" stroke-width="3"/>
<text x="241.2" y="991.7" font-size="24.8" fill="#fff">F-actin</text>
</g>
</svg>
</body></html>
